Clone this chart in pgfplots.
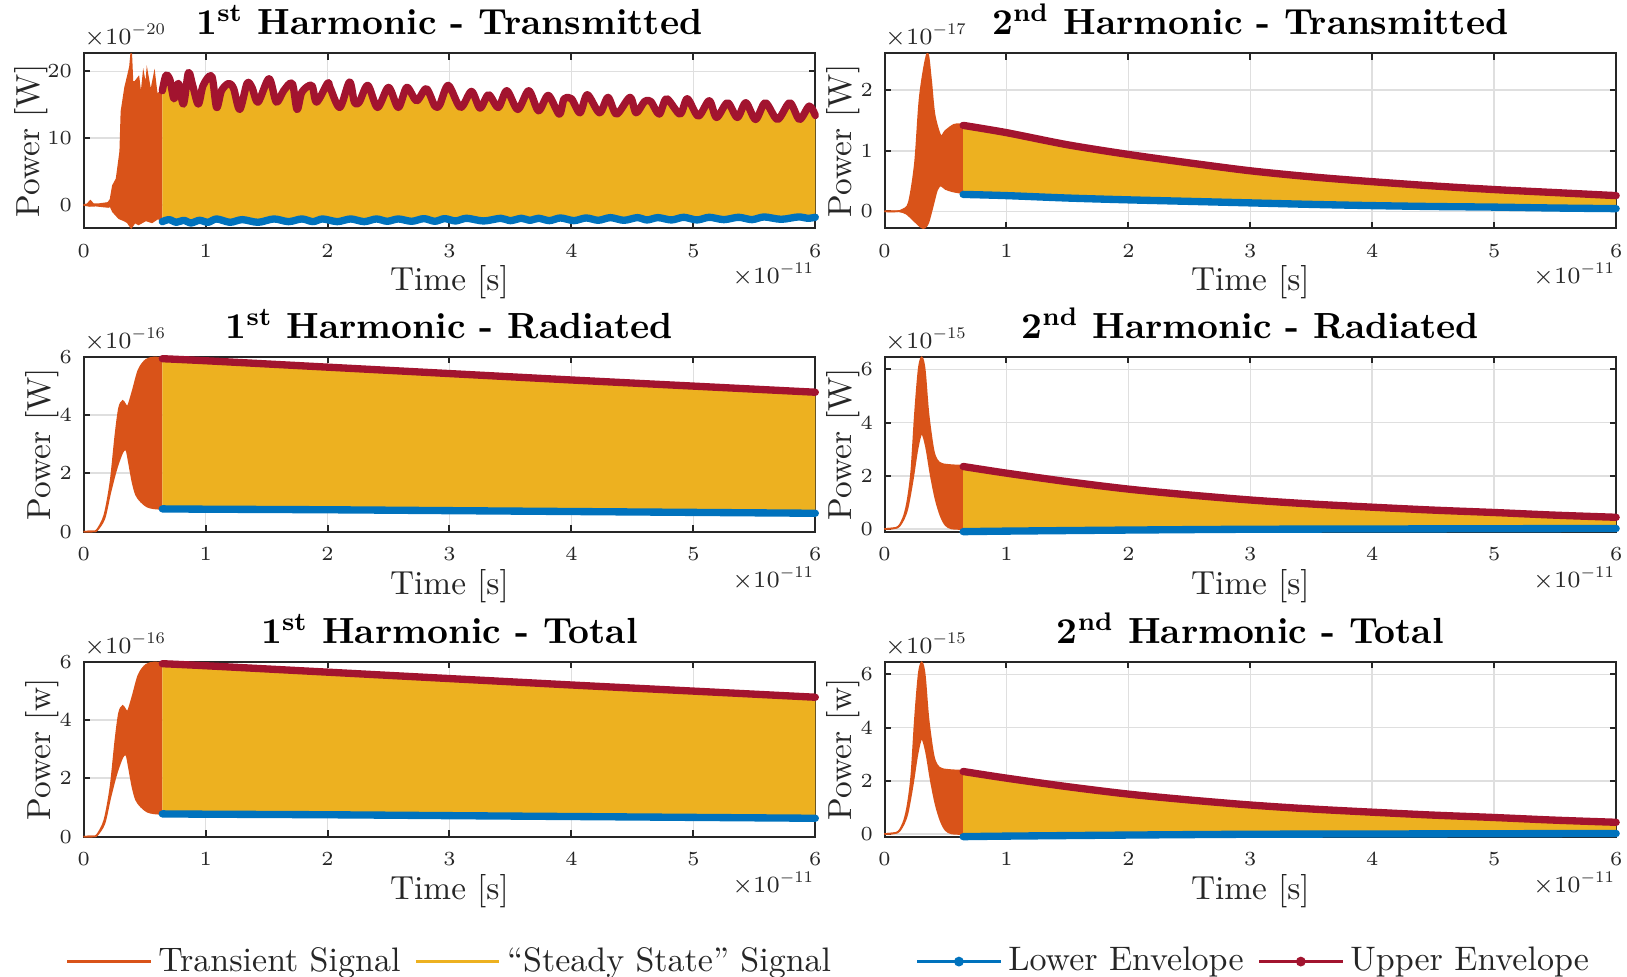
\documentclass[border=0pt]{standalone}
\usepackage{graphicx}
\usepackage{pgfplots}
\pgfplotsset{compat=1.18}
\usepackage{pgfplotstable}
\usepgfplotslibrary{fillbetween}

\definecolor{mOrange}{RGB}{217,83,25}
\definecolor{mYellow}{RGB}{237,177,32}
\definecolor{mBlue}{RGB}{0,114,189}
\definecolor{mRed}{RGB}{162,20,47}
\definecolor{axgray}{RGB}{38,38,38}
\definecolor{gridgray}{RGB}{223,223,223}

% exponent label like MATLAB's, with a narrow superscript
\newcommand{\texp}[1]{$\times10^{\scalebox{0.7}{$#1$}}$}

% ---- 1st harmonic, transmitted (x in 1e-11 s, y in 1e-20 W)
\pgfplotstableread{
x y
0 0
0.03 0.1
0.055 0.6
0.08 0.1
0.12 0.1
0.16 0.2
0.2 0.3
0.22 0.8
0.24 2.9
0.27 3.9
0.30 8.0
0.31 14.0
0.34 17.6
0.36 19.1
0.38 20.7
0.39 22.7
0.40 18.4
0.42 18.4
0.45 19.1
0.47 16.0
0.49 19.6
0.51 17.6
0.52 19.9
0.55 16.8
0.58 19.6
0.60 16.5
0.62 16.8
0.645 17.1
}\tTrUpA
\pgfplotstableread{
x y
0 0
0.05 -0.15
0.1 -0.1
0.15 -0.2
0.2 -0.3
0.22 -0.2
0.24 -1.0
0.29 -2.0
0.33 -2.3
0.36 -2.6
0.39 -3.4
0.42 -2.6
0.45 -2.9
0.51 -2.3
0.56 -2.6
0.61 -2.0
0.645 -2.4
}\tTrLoA
\pgfplotstableread{
x y
0.645 17.1
0.675 19.4
0.708 18.7
0.741 15.9
0.777 18.2
0.818 15.1
0.859 19.8
0.894 17.9
0.94 15.1
0.98 17.9
1.05 19.3
1.09 14.6
1.13 17.1
1.19 18.2
1.23 17.4
1.28 14.3
1.34 18.2
1.38 17.6
1.43 15.4
1.52 18.9
1.58 15.4
1.64 17.1
1.71 18.2
1.75 14.3
1.79 16.9
1.87 17.9
1.91 15.4
2.0 18.2
2.02 17.6
2.1 14.6
2.18 18.4
2.22 15.4
2.26 15.4
2.33 17.9
2.41 14.6
2.5 17.6
2.58 14.6
2.65 17.6
2.73 15.6
2.81 17.4
2.88 14.8
2.92 15.0
2.99 17.9
3.09 14.6
3.18 17.0
3.25 14.5
3.32 16.5
3.40 14.6
3.47 17.1
3.56 14.3
3.65 17.1
3.73 14.1
3.81 16.4
3.90 13.6
3.94 15.9
4.0 15.9
4.07 13.8
4.13 16.5
4.23 13.8
4.30 16.1
4.37 13.6
4.48 16.1
4.53 13.8
4.60 15.5
4.65 15.5
4.72 13.6
4.78 15.9
4.89 13.6
4.95 15.9
5.04 13.3
5.13 15.6
5.19 13.1
5.28 15.3
5.36 13.1
5.43 15.3
5.51 12.8
5.59 15.3
5.69 12.8
5.79 15.3
5.87 12.8
5.95 14.8
6.0 13.4
}\tEnvUpA
\pgfplotstableread{
x y
0.645 -2.5
0.70 -2.2
0.76 -2.6
0.82 -2.3
0.88 -2.7
0.95 -2.3
1.02 -2.6
1.09 -2.1
1.20 -2.6
1.30 -2.2
1.43 -2.6
1.56 -2.1
1.68 -2.5
1.79 -2.1
1.88 -2.5
1.96 -2.1
2.08 -2.5
2.19 -2.1
2.30 -2.5
2.40 -2.1
2.49 -2.45
2.58 -2.1
2.69 -2.45
2.79 -2.05
2.88 -2.45
2.96 -2.05
3.05 -2.4
3.14 -2.0
3.28 -2.4
3.42 -2.0
3.50 -2.35
3.59 -2.0
3.66 -2.3
3.73 -2.0
3.82 -2.35
3.91 -1.95
4.02 -2.35
4.12 -1.95
4.22 -2.3
4.32 -1.9
4.43 -2.3
4.54 -1.9
4.62 -2.25
4.71 -1.9
4.82 -2.25
4.92 -1.85
5.03 -2.25
5.13 -1.85
5.25 -2.2
5.37 -1.85
5.48 -2.2
5.58 -1.8
5.72 -2.15
5.86 -1.8
5.94 -2.0
6.0 -1.85
}\tEnvLoA

% ---- 2nd harmonic, transmitted (y in 1e-17 W)
\pgfplotstableread{
x y
0 0
0.1 0
0.15 0.03
0.2 0.15
0.25 0.8
0.29 1.9
0.35 2.6
0.38 2.2
0.41 1.6
0.46 1.25
0.5 1.33
0.57 1.43
0.645 1.44
}\tTrUpB
\pgfplotstableread{
x y
0 0
0.12 0
0.18 -0.04
0.24 -0.15
0.3 -0.26
0.33 -0.27
0.36 -0.18
0.40 0.12
0.43 0.35
0.46 0.43
0.5 0.37
0.56 0.33
0.645 0.3
}\tTrLoB
\pgfplotstableread{
x y
0.645 1.42
1 1.3
1.5 1.1
2 0.94
2.5 0.8
3 0.67
3.5 0.57
4 0.49
4.5 0.42
5 0.36
5.5 0.31
6 0.26
}\tEnvUpB
\pgfplotstableread{
x y
0.645 0.28
1 0.26
1.5 0.22
2 0.19
2.5 0.165
3 0.14
3.5 0.115
4 0.095
4.5 0.08
5 0.07
5.5 0.055
6 0.045
}\tEnvLoB

% ---- 1st harmonic, radiated / total (y in 1e-16 W)
\pgfplotstableread{
x y
0 0
0.08 0.01
0.11 0.06
0.17 0.57
0.22 1.71
0.26 3.3
0.29 4.23
0.32 4.48
0.36 4.29
0.40 4.8
0.45 5.54
0.51 5.89
0.575 5.97
0.645 5.95
}\tTrUpC
\pgfplotstableread{
x y
0 0
0.08 0.01
0.11 0.05
0.17 0.45
0.22 1.37
0.27 2.17
0.32 2.74
0.35 2.8
0.37 2.4
0.40 1.71
0.43 1.26
0.47 1.03
0.52 0.86
0.575 0.8
0.645 0.78
}\tTrLoC
\pgfplotstableread{
x y
0.645 5.93
1 5.86
2 5.64
3 5.42
4 5.2
5 4.99
6 4.78
}\tEnvUpC
\pgfplotstableread{
x y
0.645 0.78
1 0.77
2 0.75
3 0.72
4 0.69
5 0.66
6 0.63
}\tEnvLoC

% ---- 2nd harmonic, radiated / total (y in 1e-15 W)
\pgfplotstableread{
x y
0 0
0.08 0.03
0.12 0.12
0.16 0.5
0.19 1.1
0.22 2.2
0.25 4.35
0.28 6.0
0.305 6.45
0.33 6.0
0.36 4.35
0.40 3.0
0.43 2.6
0.47 2.45
0.55 2.4
0.645 2.38
}\tTrUpD
\pgfplotstableread{
x y
0 0
0.08 0.03
0.12 0.1
0.16 0.4
0.19 0.8
0.23 1.8
0.27 3.0
0.305 3.6
0.34 3.1
0.38 2.0
0.42 1.1
0.46 0.5
0.50 0.15
0.55 0.02
0.645 0
}\tTrLoD
\pgfplotstableread{
x y
0.645 2.35
1 2.1
1.5 1.78
2 1.5
2.5 1.28
3 1.09
3.5 0.94
4 0.82
4.5 0.71
5 0.62
5.5 0.52
6 0.44
}\tEnvUpD
\pgfplotstableread{
x y
0.645 -0.1
1 -0.08
2 -0.04
3 -0.01
4 0.0
5 0.01
6 0.02
}\tEnvLoD

\pgfplotsset{
  mlab/.style={
    scale only axis, width=219.5pt, height=52.5pt,
    anchor=north west, clip=false, set layers,
    xmin=0, xmax=6, xtick={0,1,2,3,4,5,6},
    axis line style={draw=axgray, line width=0.6pt},
    tick style={draw=axgray, line width=0.6pt},
    major tick length=2pt, tick align=inside,
    xmajorgrids, ymajorgrids,
    major grid style={draw=gridgray, line width=0.5pt},
    tick label style={font=\fontsize{6.5}{7}\selectfont, text=axgray},
    xticklabel style={yshift=-1.4pt},
    xlabel={Time [s]},
    every axis x label/.style={at={(axis description cs:0.5,-0.358)}, anchor=base,
      font=\fontsize{10}{12}\selectfont, text=axgray},
    every axis y label/.style={at={(axis description cs:-0.0452,0.5)}, rotate=90, anchor=base,
      font=\fontsize{10}{12}\selectfont, text=axgray},
    every axis title/.style={at={(axis description cs:0.5,1.105)}, anchor=base,
      font=\bfseries\fontsize{10.9}{12}\selectfont},
  },
  trans/.style={mOrange, line width=0.5pt, forget plot},
  envup/.style={mRed, line width=2.2pt, line cap=round, line join=round, forget plot},
  envlo/.style={mBlue, line width=2.2pt, line cap=round, line join=round, forget plot},
}
\tikzset{expo/.style={inner sep=0pt, font=\fontsize{6.6}{7}\selectfont, text=axgray}}

\begin{document}
\begin{tikzpicture}

% row 1, left
\begin{axis}[mlab, at={(25.1pt,-16pt)}, ymin=-3.5, ymax=22.7, ytick={0,10,20},
  every axis y label/.append style={at={(axis description cs:-0.061,0.5)}},
  title={1\textsuperscript{st} Harmonic - Transmitted}, ylabel={Power [W]}]
\addplot[trans, name path=tu1] table {\tTrUpA};
\addplot[trans, name path=tl1] table {\tTrLoA};
\addplot[mOrange, forget plot] fill between[of=tu1 and tl1];
\addplot[envup, smooth, tension=0.5, name path=eu1] table {\tEnvUpA};
\addplot[envlo, smooth, tension=0.5, name path=el1] table {\tEnvLoA};
\addplot[mYellow, forget plot] fill between[of=eu1 and el1];
\node[expo, anchor=base west] at (rel axis cs:0,1.048) {\texp{-20}};
\node[expo, anchor=base east] at (rel axis cs:1,-0.318) {\texp{-11}};
\end{axis}

% row 1, right
\begin{axis}[mlab, at={(265.35pt,-16pt)}, ymin=-0.28, ymax=2.61, ytick={0,1,2},
  title={2\textsuperscript{nd} Harmonic - Transmitted}, ylabel={Power [W]}]
\addplot[trans, smooth, name path=tu2] table {\tTrUpB};
\addplot[trans, smooth, name path=tl2] table {\tTrLoB};
\addplot[mOrange, forget plot] fill between[of=tu2 and tl2];
\addplot[envup, smooth, name path=eu2] table {\tEnvUpB};
\addplot[envlo, smooth, name path=el2] table {\tEnvLoB};
\addplot[mYellow, forget plot] fill between[of=eu2 and el2];
\node[expo, anchor=base west] at (rel axis cs:0,1.048) {\texp{-17}};
\node[expo, anchor=base east] at (rel axis cs:1,-0.318) {\texp{-11}};
\end{axis}

% row 2, left
\begin{axis}[mlab, at={(25.1pt,-107pt)}, ymin=0, ymax=6, ytick={0,2,4,6},
  title={1\textsuperscript{st} Harmonic - Radiated}, ylabel={Power [W]}]
\addplot[trans, smooth, name path=tu3] table {\tTrUpC};
\addplot[trans, smooth, name path=tl3] table {\tTrLoC};
\addplot[mOrange, forget plot] fill between[of=tu3 and tl3];
\addplot[envup, smooth, name path=eu3] table {\tEnvUpC};
\addplot[envlo, smooth, name path=el3] table {\tEnvLoC};
\addplot[mYellow, forget plot] fill between[of=eu3 and el3];
\node[expo, anchor=base west] at (rel axis cs:0,1.048) {\texp{-16}};
\node[expo, anchor=base east] at (rel axis cs:1,-0.318) {\texp{-11}};
\end{axis}

% row 2, right
\begin{axis}[mlab, at={(265.35pt,-107pt)}, ymin=-0.1, ymax=6.48, ytick={0,2,4,6},
  title={2\textsuperscript{nd} Harmonic - Radiated}, ylabel={Power [W]}]
\addplot[trans, smooth, name path=tu4] table {\tTrUpD};
\addplot[trans, smooth, name path=tl4] table {\tTrLoD};
\addplot[mOrange, forget plot] fill between[of=tu4 and tl4];
\addplot[envup, smooth, name path=eu4] table {\tEnvUpD};
\addplot[envlo, smooth, name path=el4] table {\tEnvLoD};
\addplot[mYellow, forget plot] fill between[of=eu4 and el4];
\node[expo, anchor=base west] at (rel axis cs:0,1.048) {\texp{-15}};
\node[expo, anchor=base east] at (rel axis cs:1,-0.318) {\texp{-11}};
\end{axis}

% row 3, left (carries the legend)
\begin{axis}[mlab, at={(25.1pt,-198.5pt)}, ymin=0, ymax=6, ytick={0,2,4,6},
  title={1\textsuperscript{st} Harmonic - Total}, ylabel={Power [w]},
  legend columns=4,
  legend image code/.code={\draw[mark repeat=2,mark phase=2,#1] plot coordinates {(0pt,0pt) (12.5pt,0pt) (25pt,0pt)};},
  legend style={at={(axis description cs:1.0212,-0.714)}, anchor=center, draw=none, fill=none,
    font=\fontsize{10.2}{12}\selectfont, text=axgray,
    /tikz/every even column/.append style={column sep=2.3pt}}]
\addplot[trans, smooth, name path=tu5] table {\tTrUpC};
\addplot[trans, smooth, name path=tl5] table {\tTrLoC};
\addplot[mOrange, forget plot] fill between[of=tu5 and tl5];
\addplot[envup, smooth, name path=eu5] table {\tEnvUpC};
\addplot[envlo, smooth, name path=el5] table {\tEnvLoC};
\addplot[mYellow, forget plot] fill between[of=eu5 and el5];
\node[expo, anchor=base west] at (rel axis cs:0,1.048) {\texp{-16}};
\node[expo, anchor=base east] at (rel axis cs:1,-0.318) {\texp{-11}};
\addlegendimage{mOrange, line width=0.7pt}
\addlegendentry{Transient Signal}
\addlegendimage{mYellow, line width=0.7pt}
\addlegendentry{``Steady State'' Signal\hspace*{21.2pt}}
\addlegendimage{mBlue, line width=0.7pt, mark=*, mark size=1.1pt}
\addlegendentry{Lower Envelope}
\addlegendimage{mRed, line width=0.7pt, mark=*, mark size=1.1pt}
\addlegendentry{Upper Envelope}
\end{axis}

% row 3, right
\begin{axis}[mlab, at={(265.35pt,-198.5pt)}, ymin=-0.1, ymax=6.48, ytick={0,2,4,6},
  title={2\textsuperscript{nd} Harmonic - Total}, ylabel={Power [w]}]
\addplot[trans, smooth, name path=tu6] table {\tTrUpD};
\addplot[trans, smooth, name path=tl6] table {\tTrLoD};
\addplot[mOrange, forget plot] fill between[of=tu6 and tl6];
\addplot[envup, smooth, name path=eu6] table {\tEnvUpD};
\addplot[envlo, smooth, name path=el6] table {\tEnvLoD};
\addplot[mYellow, forget plot] fill between[of=eu6 and el6];
\node[expo, anchor=base west] at (rel axis cs:0,1.048) {\texp{-15}};
\node[expo, anchor=base east] at (rel axis cs:1,-0.318) {\texp{-11}};
\end{axis}

% page frame, same size as the reference
\pgfresetboundingbox
\path[use as bounding box] (0,0) rectangle (488.1pt,-293.1pt);
\end{tikzpicture}
\end{document}
